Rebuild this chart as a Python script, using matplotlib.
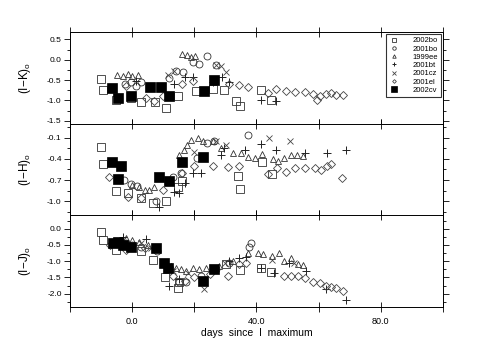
import matplotlib
matplotlib.use("Agg")
import matplotlib.pyplot as plt

plt.rcParams['font.family'] = ['Liberation Sans', 'DejaVu Sans']
plt.rcParams['mathtext.fontset'] = 'custom'
plt.rcParams['mathtext.rm'] = 'Liberation Sans'

# ---- (I-K)0 panel ----
ik_02bo_d = [-10.1, -9.4, -5.1, -0.4, 2.8, 7.3, 10.9, 14.6, 20.5, 25.9, 29.7, 33.4, 34.7, 41.5, 44.7]
ik_02bo_v = [-0.48, -0.74, -0.99, -0.93, -1.04, -1.04, -1.18, -0.89, -0.77, -0.73, -0.74, -1.02, -1.14, -0.74, -0.99]
ik_01bo_d = [-2.3, -0.5, 1.2, 3.0, 12.0, 14.0, 16.5, 19.5, 21.5, 24.2, 27.0]
ik_01bo_v = [-0.6, -0.55, -0.65, -0.55, -0.45, -0.28, -0.3, -0.05, -0.1, 0.1, -0.14]
ik_99ee_d = [-5.0, -3.0, -1.2, 0.0, 2.0, 16.0, 17.5, 19.0, 20.2]
ik_99ee_v = [-0.37, -0.4, -0.36, -0.39, -0.37, 0.14, 0.11, 0.07, 0.1]
ik_01bt_d = [1.2, 13.5, 17.0, 19.5, 25.9, 29.0, 31.3, 41.5, 46.3]
ik_01bt_v = [-0.52, -0.6, -0.42, -0.42, -0.55, -0.43, -0.55, -1.0, -1.02]
ik_01cz_d = [11.5, 13.5, 27.0, 28.6, 30.2]
ik_01cz_v = [-0.37, -0.27, -0.12, -0.15, -0.3]
ik_01el_d = [-2.0, 4.4, 7.0, 10.0, 16.2, 19.5, 31.3, 34.3, 37.2, 43.6, 46.3, 49.6, 52.3, 55.5,
             58.2, 59.5, 60.5, 62.5, 64.1, 65.7, 67.8]
ik_01el_v = [-0.64, -0.95, -1.02, -0.9, -0.6, -0.52, -0.6, -0.62, -0.68, -0.81, -0.73, -0.78, -0.79,
             -0.79, -0.85, -0.99, -0.9, -0.83, -0.81, -0.87, -0.87]
ik_02cv_d = [-6.4, -4.4, -0.5, 5.8, 9.3, 11.8, 23.2, 26.2]
ik_02cv_v = [-0.7, -0.94, -0.9, -0.68, -0.68, -0.88, -0.78, -0.49]

# ---- (I-H)0 panel ----
ih_02bo_d = [-10.1, -9.4, -5.3, -1.3, 2.8, 6.8, 10.9, 14.6, 16.0, 34.0, 34.7, 41.8, 45.0]
ih_02bo_v = [-0.23, -0.47, -0.86, -0.88, -0.96, -1.02, -1.0, -0.8, -0.72, -0.64, -0.83, -0.44, -0.61]
ih_01bo_d = [-2.6, -0.5, 1.5, 7.6, 13.0, 15.7, 21.0, 24.0, 26.4, 37.4]
ih_01bo_v = [-0.7, -0.75, -0.78, -1.0, -0.65, -0.6, -0.39, -0.18, -0.15, -0.06]
ih_99ee_d = [0.0, 2.3, 4.0, 5.5, 7.0, 15.2, 16.8, 17.8, 18.9, 21.1, 22.7, 25.9, 28.6, 32.4, 35.0,
             37.2, 39.4, 41.8, 45.3, 46.9, 49.0, 51.2, 53.0, 54.9]
ih_99ee_v = [-0.77, -0.8, -0.84, -0.84, -0.8, -0.34, -0.27, -0.2, -0.13, -0.11, -0.15, -0.14, -0.25,
             -0.32, -0.32, -0.37, -0.39, -0.33, -0.4, -0.43, -0.38, -0.34, -0.35, -0.36]
ih_01bt_d = [8.7, 13.5, 15.2, 17.0, 19.5, 22.1, 28.6, 29.7, 36.4, 41.5, 46.3, 55.5, 62.7, 68.7]
ih_01bt_v = [-1.08, -0.87, -0.89, -0.74, -0.6, -0.6, -0.34, -0.25, -0.27, -0.19, -0.27, -0.32, -0.32, -0.27]
ih_01cz_d = [12.0, 20.0, 27.0, 30.2, 44.0, 50.9]
ih_01cz_v = [-0.72, -0.3, -0.15, -0.2, -0.11, -0.14]
ih_01el_d = [-7.4, -1.5, 3.0, 10.0, 16.0, 20.0, 25.9, 31.0, 34.3, 43.6, 46.5, 49.6, 52.3, 55.5,
             58.7, 60.9, 62.7, 64.1, 67.6]
ih_01el_v = [-0.65, -0.94, -0.95, -0.84, -0.6, -0.5, -0.5, -0.51, -0.5, -0.62, -0.53, -0.58, -0.53,
             -0.53, -0.53, -0.56, -0.5, -0.47, -0.67]
ih_02cv_d = [-6.5, -3.5, -4.5, 8.7, 11.7, 16.0, 22.9]
ih_02cv_v = [-0.44, -0.5, -0.69, -0.65, -0.71, -0.45, -0.37]

# ---- (I-J)0 panel ----
ij_02bo_d = [-10.1, -9.3, -5.2, 2.8, 6.6, 10.7, 14.6, 15.2, 30.2, 34.8, 41.5, 44.7]
ij_02bo_v = [-0.1, -0.35, -0.65, -0.7, -0.95, -1.5, -1.83, -1.65, -1.1, -1.28, -1.2, -1.32]
ij_01bo_d = [-2.0, 0.1, 3.0, 8.0, 15.2, 17.3, 22.0, 27.0, 31.3, 37.5, 38.3]
ij_01bo_v = [-0.45, -0.5, -0.55, -0.7, -1.65, -1.65, -1.45, -1.25, -1.05, -0.55, -0.45]
ij_99ee_d = [-2.0, 0.0, 2.3, 5.0, 12.5, 14.1, 15.7, 17.3, 19.5, 21.6, 23.8, 28.0, 32.3, 37.2, 40.4,
             42.0, 44.9, 47.2, 49.0, 51.2, 53.3, 55.0]
ij_99ee_v = [-0.3, -0.35, -0.4, -0.5, -1.15, -1.2, -1.25, -1.3, -1.2, -1.25, -1.2, -1.15, -1.0, -0.75,
             -0.75, -0.78, -0.85, -0.75, -0.98, -0.9, -1.1, -1.12]
ij_01bt_d = [-3.0, 4.6, 11.9, 15.2, 31.3, 34.5, 36.7, 41.5, 45.8, 50.6, 56.0, 62.5, 68.7]
ij_01bt_v = [-0.25, -0.32, -1.75, -1.55, -1.0, -0.9, -0.88, -1.2, -1.35, -1.05, -1.3, -1.85, -2.18]
ij_01cz_d = [-3.0, 3.0, 6.0, 13.0, 18.0, 23.2, 30.0, 45.0, 52.0]
ij_01cz_v = [-0.35, -0.45, -0.6, -1.3, -1.35, -1.85, -1.05, -0.95, -1.05]
ij_01el_d = [-7.0, -2.0, 4.0, 13.0, 17.0, 20.0, 25.0, 30.7, 34.5, 36.7, 49.0, 51.2, 53.3, 55.5,
             58.2, 60.3, 62.3, 64.1, 65.7, 67.8]
ij_01el_v = [-0.5, -0.65, -0.6, -1.45, -1.6, -1.5, -1.4, -1.45, -1.1, -1.05, -1.45, -1.45, -1.47,
             -1.53, -1.65, -1.68, -1.75, -1.8, -1.82, -1.92]
ij_02cv_d = [-6.3, -4.4, -3.0, -0.4, 7.6, 10.2, 11.5, 22.8, 26.2]
ij_02cv_v = [-0.45, -0.4, -0.5, -0.55, -0.6, -1.05, -1.2, -1.6, -1.24]

# tick values of each panel
ik_major = [-1.5, -1.0, -0.5, 0.0, 0.5]
ik_minor = [-1.25, -0.75, -0.25, 0.25]
ih_major = [-1.0, -0.7, -0.4, -0.1]
ih_minor = [-1.15, -0.85, -0.55, -0.25, 0.05]
ij_major = [-2.0, -1.5, -1.0, -0.5, 0.0]
ij_minor = [-2.25, -1.75, -1.25, -0.75, -0.25, 0.25]

names = ['2002bo', '2001bo', '1999ee', '2001bt', '2001cz', '2001el', '2002cv']
styles = {
    '2002bo': dict(marker='s', ms=5.5, mfc='none', mec='#333333', mew=0.6),
    '2001bo': dict(marker='o', ms=5, mfc='none', mec='#333333', mew=0.6),
    '1999ee': dict(marker='^', ms=5, mfc='none', mec='#333333', mew=0.6),
    '2001bt': dict(marker='+', ms=6, mec='#222222', mew=0.7),
    '2001cz': dict(marker='x', ms=5, mec='#444444', mew=0.6),
    '2001el': dict(marker='D', ms=3.8, mfc='none', mec='#444444', mew=0.6),
    '2002cv': dict(marker='s', ms=7.5, mfc='black', mec='black', mew=0.5),
}

panels = [
    ('(I$-$K)$_{\\rm o}$', (-1.57, 0.68), ik_major, ik_minor,
     [(ik_02bo_d, ik_02bo_v), (ik_01bo_d, ik_01bo_v), (ik_99ee_d, ik_99ee_v), (ik_01bt_d, ik_01bt_v),
      (ik_01cz_d, ik_01cz_v), (ik_01el_d, ik_01el_v), (ik_02cv_d, ik_02cv_v)]),
    ('(I$-$H)$_{\\rm o}$', (-1.2, 0.1), ih_major, ih_minor,
     [(ih_02bo_d, ih_02bo_v), (ih_01bo_d, ih_01bo_v), (ih_99ee_d, ih_99ee_v), (ih_01bt_d, ih_01bt_v),
      (ih_01cz_d, ih_01cz_v), (ih_01el_d, ih_01el_v), (ih_02cv_d, ih_02cv_v)]),
    ('(I$-$J)$_{\\rm o}$', (-2.41, 0.41), ij_major, ij_minor,
     [(ij_02bo_d, ij_02bo_v), (ij_01bo_d, ij_01bo_v), (ij_99ee_d, ij_99ee_v), (ij_01bt_d, ij_01bt_v),
      (ij_01cz_d, ij_01cz_v), (ij_01el_d, ij_01el_v), (ij_02cv_d, ij_02cv_v)]),
]

fig = plt.figure(figsize=(4.91, 3.54), dpi=100)
gs = fig.add_gridspec(3, 1, left=0.1426, right=0.902, top=0.9096, bottom=0.1328, hspace=0)
axes = [fig.add_subplot(gs[i]) for i in range(3)]

for ax, (ylab, ylim, major, minor, data) in zip(axes, panels):
    for name, (d, v) in zip(names, data):
        ax.plot(d, v, ls='none', label=name, **styles[name])
    ax.set_xlim(-20, 100)
    ax.set_ylim(*ylim)
    ax.set_yticks(major)
    ax.set_yticklabels(['%.1f' % t for t in major])
    ax.set_yticks(minor, minor=True)
    ax.set_xticks([-20, 0, 20, 40, 60, 80, 100])
    ax.tick_params(axis='y', which='both', left=True, right=True, direction='out',
                   labelsize=6, width=0.6, pad=2)
    ax.tick_params(axis='y', which='major', length=4)
    ax.tick_params(axis='y', which='minor', length=2.5)
    ax.tick_params(axis='x', which='major', top=True, bottom=True, direction='inout',
                   length=7, width=0.6, labelsize=6.5)
    ax.set_ylabel(ylab, fontsize=8.5)
    for s in ax.spines.values():
        s.set_linewidth(0.7)
    ax.yaxis.set_label_coords(-0.1, 0.5)

for ax in axes[:2]:
    ax.tick_params(axis='x', labelbottom=False)

axes[2].set_xticklabels(['', '0.0', '', '40.0', '', '80.0', ''])
axes[2].set_xlabel('days  since  I  maximum', fontsize=7.5, labelpad=2)

leg = axes[0].legend(loc='upper right', fontsize=5.5, frameon=True, fancybox=False,
                     edgecolor='black', borderpad=0.4, labelspacing=0.12, handlelength=1.2,
                     handletextpad=1.8, markerscale=0.5, borderaxespad=0.25)
leg.get_frame().set_linewidth(0.8)

fig.savefig('out.png', dpi=100)
